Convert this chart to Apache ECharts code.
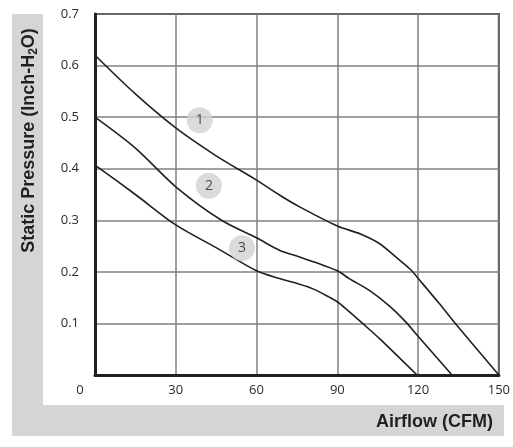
<!DOCTYPE html>
<html>
<head>
<meta charset="utf-8">
<style>html,body{margin:0;padding:0;background:#fff;}#c{width:513px;height:447px;}</style>
<script src="https://cdn.jsdelivr.net/npm/echarts@6/dist/echarts.min.js"></script>
</head>
<body>
<div id="c"></div>
<script>
const xTicks = [0, 30, 60, 90, 120, 150];
const yTicks = [0, 0.1, 0.2, 0.3, 0.4, 0.5, 0.6, 0.7];
const curve1 = [[0,0.62],[15,0.545],[30,0.479],[45,0.425],[60,0.378],[68.5,0.349],[76,0.326],[90,0.289],[98.8,0.273],[105.6,0.255],[111.7,0.229],[117.3,0.204],[120,0.1875],[127.8,0.139],[134.6,0.095],[150,0]];
const curve2 = [[0,0.50],[15,0.44],[30,0.365],[47,0.30],[60,0.266],[68.5,0.242],[76,0.229],[82,0.218],[90,0.202],[94.4,0.187],[101.9,0.164],[109.3,0.134],[115.4,0.103],[120,0.075],[132.6,0]];
const curve3 = [[0,0.407],[15,0.35],[30,0.291],[45,0.247],[60,0.202],[68.5,0.187],[76,0.176],[81,0.167],[87,0.151],[90,0.142],[94.4,0.123],[99.4,0.10],[105.6,0.071],[119.6,0]];
const badges = [[38.9,0.494,'1'],[42.3,0.367,'2'],[54.6,0.246,'3']];

const chart = echarts.init(document.getElementById('c'), null, {renderer:'canvas'});
const lineStyle = {color:'#231f20', width:1.6};
const mk = (d) => ({type:'line', data:d, smooth:0.3, symbol:'none', lineStyle:lineStyle, z:3, silent:true});
chart.setOption({
  animation:false,
  graphic:[
    {type:'rect', shape:{x:12,y:14,width:31,height:422}, style:{fill:'#d4d5d7'}, z:-10},
    {type:'rect', shape:{x:12,y:405,width:492,height:31}, style:{fill:'#d4d5d7'}, z:-10},
    {type:'text', x:29, y:140.5, rotation:Math.PI/2,
      style:{text:'{a|Static Pressure (Inch-H}{s|2}{a|O)}', align:'center', verticalAlign:'middle',
        rich:{a:{fontFamily:'Liberation Sans', fontWeight:'bold', fontSize:18, lineHeight:22, fill:'#231f20', verticalAlign:'middle'},
              s:{fontFamily:'Liberation Sans', fontWeight:'bold', fontSize:12, lineHeight:12, fill:'#231f20', verticalAlign:'bottom'}}}},
    {type:'text', x:493, y:422,
      style:{text:'Airflow (CFM)', align:'right', verticalAlign:'middle', fontFamily:'Liberation Sans', fontWeight:'bold', fontSize:18, fill:'#231f20'}}
  ],
  grid:{left:95, right:13, top:14, bottom:72, show:true, borderColor:'#231f20', borderWidth:2, backgroundColor:'transparent'},
  xAxis:{type:'value', min:xTicks[0], max:xTicks[xTicks.length-1], interval:30,
    axisLine:{show:true, onZero:false, lineStyle:{color:'#231f20', width:3}},
    axisTick:{show:false},
    splitLine:{show:true, lineStyle:{color:'#808080', width:1.5}},
    axisLabel:{margin:9, fontFamily:'Open Sans', fontSize:13, color:'#2a2a2a',
      formatter:(v)=> v===0 ? '{z|0}' : String(v),
      rich:{z:{fontFamily:'Open Sans', fontSize:13, color:'#2a2a2a', padding:[0,30,0,0]}}}
  },
  yAxis:{type:'value', min:yTicks[0], max:yTicks[yTicks.length-1], interval:0.1,
    axisLine:{show:true, onZero:false, lineStyle:{color:'#231f20', width:3}},
    axisTick:{show:false},
    splitLine:{show:true, lineStyle:{color:'#808080', width:1.5}},
    axisLabel:{margin:16, fontFamily:'Open Sans', fontSize:13, color:'#2a2a2a',
      formatter:(v)=> v===0 ? '' : v.toFixed(1)}
  },
  series:[
    mk(curve1), mk(curve2), mk(curve3),
    {type:'scatter', data:badges.map(b=>[b[0],b[1],b[2]]), symbol:'circle', symbolSize:26, z:5, silent:true,
      itemStyle:{color:'#d1d2d4'},
      label:{show:true, position:'inside', formatter:(p)=>p.data[2], fontFamily:'Open Sans', fontSize:14, color:'#231f20'}}
  ]
});
</script>
</body>
</html>
